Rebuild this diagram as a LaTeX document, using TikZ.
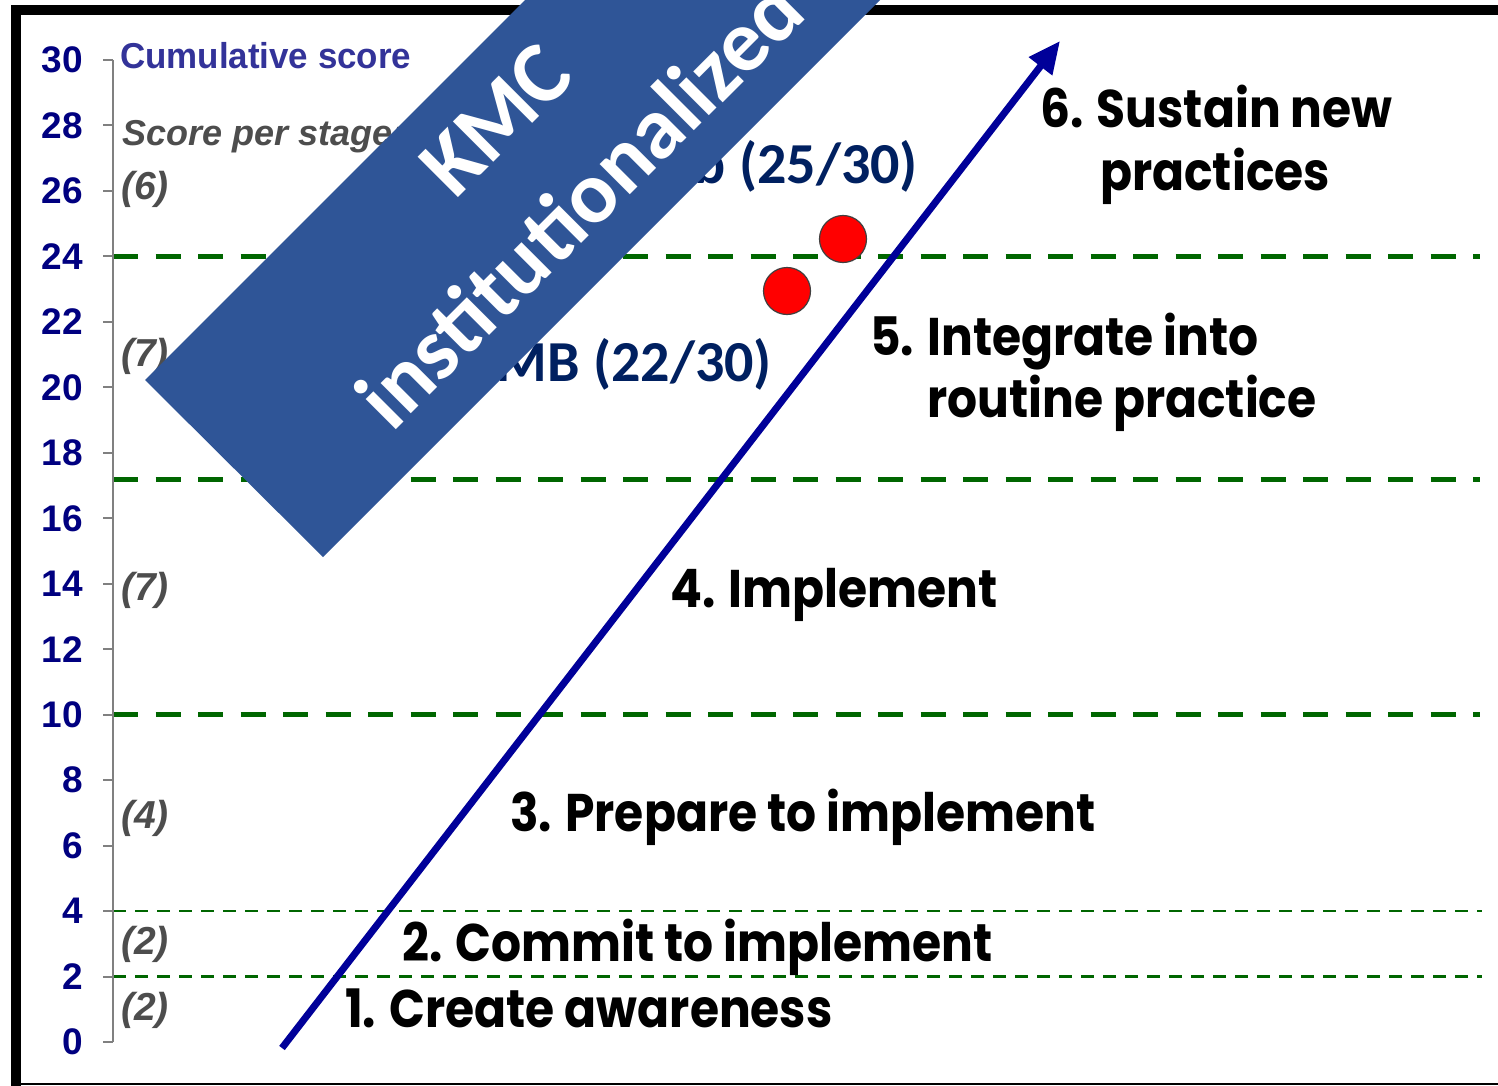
\documentclass[tikz,border=0pt]{standalone}
\usepackage{fontspec}
\setmainfont{Liberation Sans}
\newfontfamily\gothic{Poppins}
\newfontfamily\calib{Carlito}
\usetikzlibrary{arrows.meta}
\definecolor{axisblue}{RGB}{0,0,128}
\definecolor{cumblue}{RGB}{51,51,153}
\definecolor{labelgrey}{RGB}{77,77,77}
\definecolor{axisgrey}{RGB}{128,128,128}
\definecolor{dashgreen}{RGB}{0,102,0}
\definecolor{arrowblue}{RGB}{0,0,153}
\definecolor{scoreblue}{RGB}{0,32,96}
\definecolor{bannerblue}{RGB}{47,85,151}
\tikzset{
  axisnum/.style={anchor=east, text=axisblue, inner sep=0pt, font=\bfseries\fontsize{37}{37}\selectfont},
  stagescore/.style={anchor=west, text=labelgrey, inner sep=0pt, font=\bfseries\itshape\fontsize{39}{39}\selectfont},
  stagelabel/.style={anchor=base west, text=black, inner sep=0pt, xscale=0.89, font=\gothic\bfseries\fontsize{53}{60}\selectfont},
  scorelabel/.style={anchor=base east, text=scoreblue, inner sep=0pt, font=\calib\bfseries\fontsize{58}{60}\selectfont},
  thickdash/.style={draw=dashgreen, line width=5pt, dash pattern=on 25pt off 17.5pt},
  thindash/.style={draw=dashgreen, line width=2.5pt, dash pattern=on 13pt off 9pt},
  reddot/.style={circle, fill=red, draw=black!75, line width=1.2pt, minimum size=47pt, inner sep=0pt},
}
\begin{document}
\begin{tikzpicture}[x=1pt,y=-1pt]
\useasboundingbox (0,0) rectangle (1498,1086);
\fill[white] (0,0) rectangle (1498,1086);
% frame
\draw[black, line width=2pt] (16,1084) -- (1498,1084);
\draw[black, line width=9.5pt] (16,1086) -- (16,10) -- (1498,10);
% dashed stage boundaries
\coordinate (d24a) at (113,256.4);  \coordinate (d24b) at (1480,256.4);
\coordinate (d17a) at (113,479);    \coordinate (d17b) at (1480,479);
\coordinate (d10a) at (113,714.7);  \coordinate (d10b) at (1480,714.7);
\coordinate (d4a) at (113,911);     \coordinate (d4b) at (1482,911);
\coordinate (d2a) at (113,976.5);   \coordinate (d2b) at (1482,976.5);
\draw[thickdash] (d24a) -- (d24b);
\draw[thickdash] (d17a) -- (d17b);
\draw[thickdash] (d10a) -- (d10b);
\draw[thindash] (d4a) -- (d4b);
\draw[thindash] (d2a) -- (d2b);
% axis
\coordinate (axtop) at (113,60);
\coordinate (axbot) at (113,1042);
\draw[axisgrey, line width=2pt] (axtop) -- (axbot);
\foreach \v in {0,2,...,30}{
  \coordinate (tk\v) at (113,{1042-32.733*\v});
  \coordinate (tl\v) at (103,{1042-32.733*\v});
  \draw[axisgrey, line width=2pt] (tl\v) -- (tk\v);
  \node[axisnum] (num\v) at (83,{1042-32.733*\v}) {\v};
}
\node[anchor=base west, text=cumblue, inner sep=0pt, xscale=0.97, font=\bfseries\fontsize{36}{36}\selectfont] (cum) at (120,69) {Cumulative score};
\node[anchor=base west, text=labelgrey, inner sep=0pt, font=\bfseries\itshape\fontsize{36}{36}\selectfont] (sps) at (122,146) {Score per stage:};
\node[stagescore] (s6) at (121,189) {(6)};
\node[stagescore] (s5) at (121,356) {(7)};
\node[stagescore] (s4) at (121,590) {(7)};
\node[stagescore] (s3) at (121,818) {(4)};
\node[stagescore] (s2) at (121,944) {(2)};
\node[stagescore] (s1) at (121,1010) {(2)};
% stage labels
\node[stagelabel] (l1) at (345,1027) {1. Create awareness};
\node[stagelabel] (l2) at (402,961) {2. Commit to implement};
\node[stagelabel] (l3) at (510,831) {3. Prepare to implement};
\node[stagelabel] (l4) at (670,607) {4. Implement};
\node[stagelabel] (l5a) at (870,355) {5. Integrate into};
\node[stagelabel] (l5b) at (927,417) {routine practice};
\node[stagelabel] (l6a) at (1040,128) {6. Sustain new};
\node[stagelabel] (l6b) at (1100,190) {practices};
% scores
\node[scorelabel] (sc25) at (918,183) {b (25/30)};
\node[scorelabel] (sc22) at (772,381) {MB (22/30)};
% arrow
\coordinate (arrS) at (282,1048);
\coordinate (arrE) at (1060,41);
\draw[arrowblue, line width=7pt, -{Triangle[length=32pt,width=28pt]}] (arrS) -- (arrE);
% red dots
\node[reddot] (dotA) at (843,239) {};
\node[reddot] (dotB) at (787,291) {};
% banner
\begin{scope}
\clip (0,0) rectangle (1498,1086);
\fill[bannerblue] (145,380) -- (323,557) -- (1040,-160) -- (862,-337) -- cycle;
\node[rotate=45, text=white, align=center, inner sep=0pt, font=\calib\bfseries\fontsize{88}{120}\selectfont] (banner) at (538,162) {KMC\\institutionalized};
\end{scope}
\end{tikzpicture}
\end{document}
